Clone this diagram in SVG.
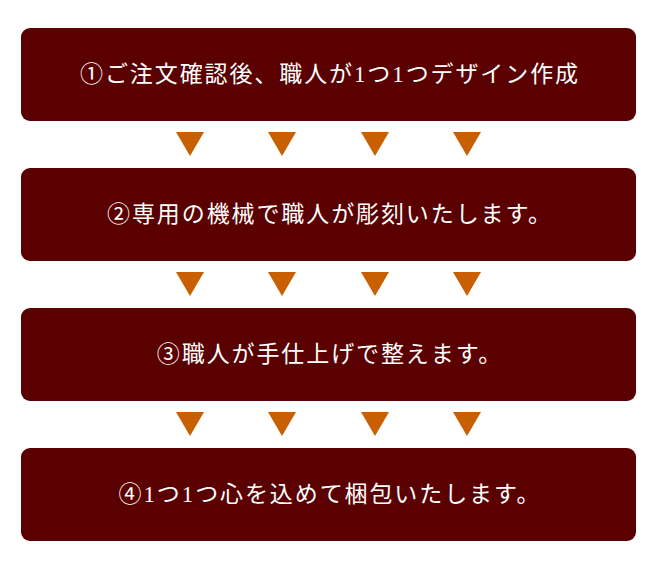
<svg xmlns="http://www.w3.org/2000/svg" width="659" height="565" viewBox="0 0 659 565">
<style>
.box{fill:#5a0000}
.lbl{fill:#ffffff;font-family:"Liberation Serif","Noto Sans CJK JP",serif;font-size:23px;letter-spacing:1.9px;text-anchor:middle;dominant-baseline:central}
.tri{fill:#c85f00}
</style>
<defs>
<polygon id="t" points="-14,0 14,0 0,24" class="tri"/>
</defs>
<rect width="659" height="565" fill="#ffffff"/>
<g id="step1"><rect class="box" x="21" y="28" width="615" height="93" rx="9"/><text class="lbl" x="330" y="74.5">①ご注文確認後、職人が1つ1つデザイン作成</text></g>
<g id="step2"><rect class="box" x="21" y="168" width="615" height="93" rx="9"/><text class="lbl" x="330" y="214.5">②専用の機械で職人が彫刻いたします。</text></g>
<g id="step3"><rect class="box" x="21" y="308" width="615" height="93" rx="9"/><text class="lbl" x="330" y="354.5">③職人が手仕上げで整えます。</text></g>
<g id="step4"><rect class="box" x="21" y="448" width="615" height="93" rx="9"/><text class="lbl" x="330" y="494.5">④1つ1つ心を込めて梱包いたします。</text></g>
<g id="connectors">
<use href="#t" x="190" y="132"/><use href="#t" x="282" y="132"/><use href="#t" x="375" y="132"/><use href="#t" x="467" y="132"/>
<use href="#t" x="190" y="272"/><use href="#t" x="282" y="272"/><use href="#t" x="375" y="272"/><use href="#t" x="467" y="272"/>
<use href="#t" x="190" y="412"/><use href="#t" x="282" y="412"/><use href="#t" x="375" y="412"/><use href="#t" x="467" y="412"/>
</g>
</svg>
